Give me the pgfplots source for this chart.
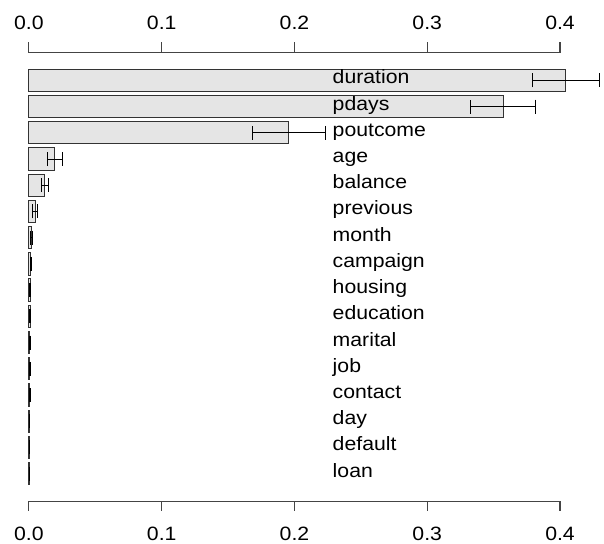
\documentclass[border=0pt]{standalone}
\usepackage{pgfplots}
\pgfplotsset{compat=1.18}
\usepackage{pgfplotstable}
\usepackage{fontspec}
\setmainfont{Liberation Sans}
\definecolor{barfill}{HTML}{E5E5E5}
\definecolor{bardraw}{HTML}{333333}
\definecolor{axcol}{HTML}{444444}
\tikzset{lbl/.style={font=\fontsize{14.5}{17}\selectfont, xscale=1.1, inner sep=0pt, text=black}}
\pgfplotstableread{
i v e name
0 0.4045 0.0253 duration
1 0.3571 0.0244 pdays
2 0.1957 0.0275 poutcome
3 0.0195 0.0054 age
4 0.0120 0.0025 balance
5 0.0047 0.0019 previous
6 0.0022 0.0008 month
7 0.0015 0.0005 campaign
8 0.0010 0.0004 housing
9 0.0008 0.0003 education
10 0.0007 0.0003 marital
11 0.0006 0.0003 job
12 0.0005 0.0003 contact
13 0.0004 0.0003 day
14 0.0003 0.0002 default
15 0.0003 0.0002 loan
}\data
\begin{document}
\begin{tikzpicture}
\begin{axis}[
 scale only axis, width=453pt, height=408pt,
 xmin=-0.021805, xmax=0.432331,
 ymin=-3.0643, ymax=17.644, y dir=reverse,
 hide axis, clip=false,
 ]
\path (rel axis cs:0,0) rectangle (rel axis cs:1,1);
\addplot[xbar, bar width=16.8pt, fill=barfill, draw=bardraw, line width=0.75pt,
  error bars/.cd, x dir=both, x explicit, error mark=|,
  error bar style={black, line width=0.75pt},
  error mark options={black, mark size=5.25pt, line width=0.75pt}]
 table[x=v, y=i, x error=e] {\data};
% axis lines (top and bottom)
\draw[axcol, line width=0.8pt] (axis cs:0,-1.058) -- (axis cs:0.4,-1.058);
\draw[axcol, line width=0.8pt] (axis cs:0,16.056) -- (axis cs:0.4,16.056);
\pgfplotsinvokeforeach{0,0.1,0.2,0.3,0.4}{
  \draw[axcol, line width=0.8pt] (axis cs:#1,-1.058) -- (axis cs:#1,-1.477);
  \draw[axcol, line width=0.8pt] (axis cs:#1,16.056) -- (axis cs:#1,16.437);
}
\node[lbl] at (axis cs:0,-2.208) {0.0};
\node[lbl] at (axis cs:0.1,-2.208) {0.1};
\node[lbl] at (axis cs:0.2,-2.208) {0.2};
\node[lbl] at (axis cs:0.3,-2.208) {0.3};
\node[lbl] at (axis cs:0.4,-2.208) {0.4};
\node[lbl] at (axis cs:0,17.301) {0.0};
\node[lbl] at (axis cs:0.1,17.301) {0.1};
\node[lbl] at (axis cs:0.2,17.301) {0.2};
\node[lbl] at (axis cs:0.3,17.301) {0.3};
\node[lbl] at (axis cs:0.4,17.301) {0.4};
\node[lbl, anchor=base west] at (axis cs:0.2286,0.133) {duration};
\node[lbl, anchor=base west] at (axis cs:0.2286,1.133) {pdays};
\node[lbl, anchor=base west] at (axis cs:0.2286,2.133) {poutcome};
\node[lbl, anchor=base west] at (axis cs:0.2286,3.133) {age};
\node[lbl, anchor=base west] at (axis cs:0.2286,4.133) {balance};
\node[lbl, anchor=base west] at (axis cs:0.2286,5.133) {previous};
\node[lbl, anchor=base west] at (axis cs:0.2286,6.133) {month};
\node[lbl, anchor=base west] at (axis cs:0.2286,7.133) {campaign};
\node[lbl, anchor=base west] at (axis cs:0.2286,8.133) {housing};
\node[lbl, anchor=base west] at (axis cs:0.2286,9.133) {education};
\node[lbl, anchor=base west] at (axis cs:0.2286,10.133) {marital};
\node[lbl, anchor=base west] at (axis cs:0.2286,11.133) {job};
\node[lbl, anchor=base west] at (axis cs:0.2286,12.133) {contact};
\node[lbl, anchor=base west] at (axis cs:0.2286,13.133) {day};
\node[lbl, anchor=base west] at (axis cs:0.2286,14.133) {default};
\node[lbl, anchor=base west] at (axis cs:0.2286,15.133) {loan};
\end{axis}
\end{tikzpicture}
\end{document}
